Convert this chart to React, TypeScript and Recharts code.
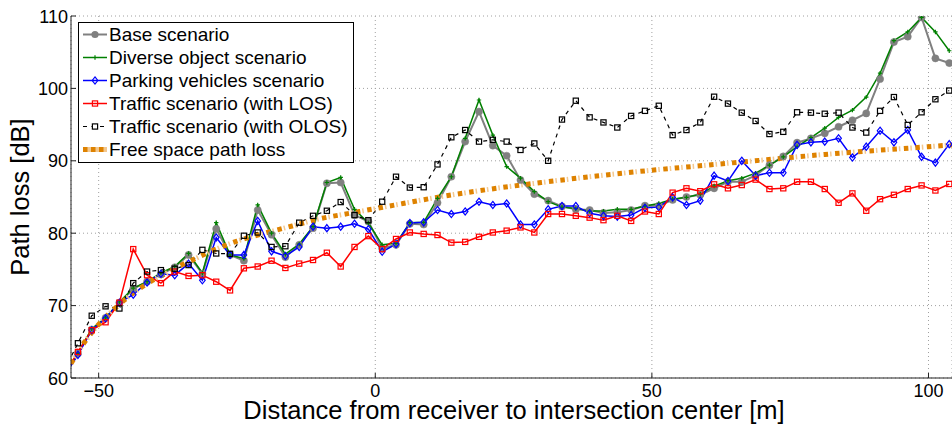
import React from 'react';
import { LineChart, Line, XAxis, YAxis, CartesianGrid, Legend } from 'recharts';

// Distance from receiver to intersection center [m]
const DISTANCE = [
  -56.25, -53.75, -51.25, -48.75, -46.25, -43.75, -41.25, -38.75, -36.25, -33.75,
  -31.25, -28.75, -26.25, -23.75, -21.25, -18.75, -16.25, -13.75, -11.25, -8.75,
  -6.25, -3.75, -1.25, 1.25, 3.75, 6.25, 8.75, 11.25, 13.75, 16.25,
  18.75, 21.25, 23.75, 26.25, 28.75, 31.25, 33.75, 36.25, 38.75, 41.25,
  43.75, 46.25, 48.75, 51.25, 53.75, 56.25, 58.75, 61.25, 63.75, 66.25,
  68.75, 71.25, 73.75, 76.25, 78.75, 81.25, 83.75, 86.25, 88.75, 91.25,
  93.75, 96.25, 98.75, 101.25, 103.75,
];

const BASE = [
  60.3, 63.4, 66.7, 68.3, 70.4, 72.3, 73.3, 74.3, 75.3, 77.0,
  74.4, 80.6, 77.0, 76.2, 83.2, 79.8, 76.7, 78.4, 80.7, 86.9,
  87.0, 82.5, 81.6, 77.9, 78.4, 81.3, 81.2, 84.2, 87.8, 92.65,
  96.8, 92.1, 90.7, 87.35, 85.4, 84.5, 83.7, 83.3, 83.2, 82.8,
  82.9, 83.2, 83.8, 83.8, 84.6, 85.0, 85.3, 86.2, 87.1, 87.1,
  88.0, 89.4, 90.6, 92.5, 93.1, 93.8, 94.7, 95.6, 96.55, 101.3,
  106.4, 107.15, 109.8, 104.15, 103.5,
];

const DIVERSE = [
  60.3, 63.4, 66.8, 68.3, 70.5, 72.4, 73.3, 74.5, 75.4, 77.2,
  74.5, 81.45, 77.0, 76.5, 83.9, 80.0, 77.1, 78.5, 80.9, 87.0,
  87.7, 83.3, 81.4, 78.4, 78.6, 81.45, 81.5, 84.8, 87.8, 93.1,
  98.4, 93.55, 89.2, 87.6, 85.75, 84.35, 83.6, 83.4, 83.05, 83.05,
  83.3, 83.3, 83.75, 84.1, 84.7, 84.95, 85.4, 86.5, 87.25, 87.6,
  88.3, 89.4, 90.55, 91.95, 93.2, 94.5, 96.0, 97.0, 98.8, 102.1,
  106.6, 107.8, 109.8, 107.8, 105.2,
];

const PARKING = [
  60.2, 63.2, 66.6, 68.25, 70.4, 71.5, 73.2, 74.4, 74.2, 75.8,
  73.5, 79.4, 77.0, 77.0, 81.7, 77.5, 76.85, 78.1, 80.9, 80.7,
  80.9, 81.3, 80.55, 77.45, 78.5, 81.4, 81.5, 83.2, 82.65, 83.0,
  84.35, 83.9, 84.1, 81.2, 81.2, 83.3, 83.75, 83.75, 82.75, 82.4,
  82.3, 82.5, 83.5, 83.6, 84.95, 83.9, 84.5, 87.95, 87.2, 90.0,
  87.95, 88.35, 88.35, 92.2, 92.55, 92.65, 93.1, 90.45, 91.95, 94.15,
  92.55, 94.25, 90.55, 89.75, 92.3,
];

const TRAFFIC_LOS = [
  60.4, 63.6, 66.6, 67.7, 70.4, 77.8, 74.2, 73.1, 74.7, 74.1,
  74.2, 73.3, 72.1, 75.15, 75.4, 76.2, 75.2, 75.8, 76.3, 77.3,
  75.4, 78.1, 79.6, 77.8, 79.2, 80.1, 79.9, 79.75, 78.7, 78.8,
  79.5, 80.1, 80.35, 80.8, 80.1, 82.65, 82.65, 82.4, 82.15, 81.8,
  82.4, 81.7, 83.0, 82.65, 85.6, 86.2, 85.8, 86.75, 86.2, 86.65,
  87.4, 86.1, 86.2, 87.1, 87.1, 86.1, 84.2, 85.5, 83.1, 84.7,
  85.3, 86.1, 86.6, 85.9, 86.8,
];

const TRAFFIC_OLOS = [
  61.0, 64.8, 68.6, 69.9, 69.6, 73.1, 74.7, 74.9, 75.1, 75.6,
  77.7, 77.2, 77.15, 79.65, 80.1, 78.1, 78.2, 81.45, 82.4, 83.1,
  84.3, 82.5, 81.8, 84.35, 87.8, 86.3, 86.35, 89.5, 93.25, 94.25,
  92.65, 92.9, 92.65, 91.5, 92.4, 90.0, 95.7, 98.3, 96.0, 95.3,
  94.6, 96.2, 96.9, 97.6, 93.55, 94.25, 95.3, 98.85, 97.9, 96.65,
  95.5, 93.7, 94.0, 96.7, 96.65, 96.5, 96.65, 94.6, 93.9, 96.9,
  98.8, 94.95, 96.7, 98.5, 99.7,
];

// Free space path loss curve
const FSPL_X = [
  -55, -52.5, -50, -47.5, -45, -42.5, -40, -37.5, -35, -32.5,
  -30, -25, -20, -15, -10, -5, 0, 5, 10, 20,
  30, 40, 50, 60, 70, 80, 90, 100, 104.25,
];
const FSPL = [
  62.0, 65.0, 67.4, 69.3, 71.0, 72.4, 73.6, 74.6, 75.6, 76.5,
  77.4, 78.9, 80.0, 81.0, 82.0, 82.7, 83.4, 84.1, 84.8, 86.0,
  87.0, 87.9, 88.7, 89.4, 90.1, 90.8, 91.4, 91.95, 92.2,
];

const X_TICKS = [-50, 0, 50, 100];
const Y_TICKS = [60, 70, 80, 90, 100, 110];

const SERIES_NAMES = [
  'Base scenario',
  'Diverse object scenario',
  'Parking vehicles scenario',
  'Traffic scenario (with LOS)',
  'Traffic scenario (with OLOS)',
  'Free space path loss',
];

const X_LABEL = 'Distance from receiver to intersection center [m]';
const Y_LABEL = 'Path loss [dB]';

const data = DISTANCE.map((x, i) => ({
  x,
  base: BASE[i],
  diverse: DIVERSE[i],
  parking: PARKING[i],
  los: TRAFFIC_LOS[i],
  olos: TRAFFIC_OLOS[i],
}));
const fsplData = FSPL_X.map((x, i) => ({ x, fspl: FSPL[i] }));

const FONT = '"Liberation Sans", Arial, Helvetica, sans-serif';
const GRAY = '#808080';
const GREEN = '#008000';
const BLUE = '#0000ff';
const RED = '#ff0000';
const BLACK = '#000000';
const ORANGE = '#de8200';
const ORANGE_LIGHT = '#f3c890';

const PLOT_LEFT = 71;
const PLOT_BOTTOM = 378;

const ok = (p: any) => p && p.cx != null && p.cy != null && isFinite(p.cx) && isFinite(p.cy);

const circleDot = (p: any) =>
  ok(p) ? (
    <circle key={`b${p.index}`} cx={p.cx} cy={p.cy} r={3.6} fill={GRAY} stroke={GRAY} strokeWidth={0.5} />
  ) : (
    <g key={`b${p.index}`} />
  );

const plusDot = (p: any) =>
  ok(p) ? (
    <path
      key={`d${p.index}`}
      d={`M${p.cx - 2.2},${p.cy}h4.4M${p.cx},${p.cy - 2.2}v4.4`}
      stroke={GREEN}
      strokeWidth={1.2}
      fill="none"
    />
  ) : (
    <g key={`d${p.index}`} />
  );

const diamondDot = (p: any) =>
  ok(p) ? (
    <path
      key={`p${p.index}`}
      d={`M${p.cx},${p.cy - 3.6}L${p.cx + 2.8},${p.cy}L${p.cx},${p.cy + 3.6}L${p.cx - 2.8},${p.cy}Z`}
      stroke={BLUE}
      strokeWidth={1.2}
      fill="none"
    />
  ) : (
    <g key={`p${p.index}`} />
  );

const squareDot = (color: string, prefix: string) => (p: any) =>
  ok(p) ? (
    <rect
      key={`${prefix}${p.index}`}
      x={p.cx - 2.6}
      y={p.cy - 2.6}
      width={5.2}
      height={5.2}
      stroke={color}
      strokeWidth={1.2}
      fill="none"
    />
  ) : (
    <g key={`${prefix}${p.index}`} />
  );

const XTick = (props: any) => {
  const { x, payload } = props;
  const v = payload.value as number;
  const label = v < 0 ? `\u2212${Math.abs(v)}` : `${v}`;
  return (
    <g>
      <line x1={x} x2={x} y1={PLOT_BOTTOM} y2={PLOT_BOTTOM - 5} stroke="#222" strokeWidth={1} />
      <text x={x} y={397} textAnchor="middle" fontFamily={FONT} fontSize={18} fill="#000">
        {label}
      </text>
    </g>
  );
};

const YTick = (props: any) => {
  const { y, payload } = props;
  return (
    <g>
      <line x1={PLOT_LEFT} x2={PLOT_LEFT + 5} y1={y} y2={y} stroke="#222" strokeWidth={1} />
      <text x={68} y={y + 6.5} textAnchor="end" fontFamily={FONT} fontSize={18} fill="#000">
        {payload.value}
      </text>
    </g>
  );
};

const LegendSymbol = ({ idx }: { idx: number }) => {
  const y = 11.5;
  const x1 = 4;
  const x2 = 28;
  const cx = 16;
  switch (idx) {
    case 0:
      return (
        <svg width={30} height={23}>
          <line x1={x1} x2={x2} y1={y} y2={y} stroke={GRAY} strokeWidth={2} />
          <circle cx={cx} cy={y} r={3.6} fill={GRAY} />
        </svg>
      );
    case 1:
      return (
        <svg width={30} height={23}>
          <line x1={x1} x2={x2} y1={y} y2={y} stroke={GREEN} strokeWidth={1.5} />
          <path d={`M${cx - 2.2},${y}h4.4M${cx},${y - 2.2}v4.4`} stroke={GREEN} strokeWidth={1.2} />
        </svg>
      );
    case 2:
      return (
        <svg width={30} height={23}>
          <line x1={x1} x2={x2} y1={y} y2={y} stroke={BLUE} strokeWidth={1.5} />
          <path
            d={`M${cx},${y - 3.6}L${cx + 2.8},${y}L${cx},${y + 3.6}L${cx - 2.8},${y}Z`}
            stroke={BLUE}
            strokeWidth={1.2}
            fill="none"
          />
        </svg>
      );
    case 3:
      return (
        <svg width={30} height={23}>
          <line x1={x1} x2={x2} y1={y} y2={y} stroke={RED} strokeWidth={1.5} />
          <rect x={cx - 2.6} y={y - 2.6} width={5.2} height={5.2} stroke={RED} strokeWidth={1.2} fill="none" />
        </svg>
      );
    case 4:
      return (
        <svg width={30} height={23}>
          <line x1={x1} x2={x2} y1={y} y2={y} stroke={BLACK} strokeWidth={1.2} strokeDasharray="4 4.5" />
          <rect x={cx - 2.6} y={y - 2.6} width={5.2} height={5.2} stroke={BLACK} strokeWidth={1.2} fill="#fff" />
        </svg>
      );
    default:
      return (
        <svg width={30} height={23}>
          <line x1={x1} x2={x2} y1={y} y2={y} stroke={ORANGE_LIGHT} strokeWidth={5} />
          <line x1={x1} x2={x2} y1={y} y2={y} stroke={ORANGE} strokeWidth={5} strokeDasharray="4.5 3.5" />
        </svg>
      );
  }
};

const LegendBox = () => (
  <div
    style={{
      border: '1px solid #000',
      background: '#fff',
      width: 276,
      height: 141,
      boxSizing: 'border-box',
      fontFamily: FONT,
      fontSize: 19,
      color: '#000',
      textAlign: 'left',
    }}
  >
    {SERIES_NAMES.map((name, i) => (
      <div key={name} style={{ display: 'flex', alignItems: 'center', height: 23, lineHeight: '23px', whiteSpace: 'nowrap' }}>
        <LegendSymbol idx={i} />
        <span style={{ marginLeft: 0 }}>{name}</span>
      </div>
    ))}
  </div>
);

const XLabel = () => (
  <text x={514} y={419} textAnchor="middle" fontFamily={FONT} fontSize={25.5} fill="#000">
    {X_LABEL}
  </text>
);

const YLabel = () => (
  <text
    x={29}
    y={197}
    textAnchor="middle"
    fontFamily={FONT}
    fontSize={25.5}
    fill="#000"
    transform="rotate(-90 29 197)"
  >
    {Y_LABEL}
  </text>
);

export default function App() {
  return (
    <div style={{ position: 'absolute', left: 0, top: 0, width: 952, height: 425, background: '#fff' }}>
      <LineChart width={952} height={425} data={data} margin={{ top: 16, right: 0, bottom: 0, left: 0 }}>
        <CartesianGrid stroke="#a0a0a0" strokeDasharray="1 3" strokeWidth={1} />
        <XAxis
          type="number"
          dataKey="x"
          domain={[-55, 104.25]}
          allowDataOverflow
          ticks={X_TICKS}
          interval={0}
          height={47}
          tickLine={false}
          tick={<XTick />}
          axisLine={{ stroke: '#222', strokeWidth: 1 }}
          label={<XLabel />}
        />
        <YAxis
          type="number"
          domain={[60, 110]}
          allowDataOverflow
          ticks={Y_TICKS}
          interval={0}
          width={71}
          tickLine={false}
          tick={<YTick />}
          axisLine={{ stroke: '#222', strokeWidth: 1 }}
          label={<YLabel />}
        />
        <Legend
          layout="vertical"
          align="center"
          verticalAlign="middle"
          content={<LegendBox />}
          wrapperStyle={{ left: 78, top: 22, width: 276, height: 141, margin: 0 }}
        />
        <Line
          type="linear"
          dataKey="base"
          name={SERIES_NAMES[0]}
          stroke={GRAY}
          strokeWidth={2}
          dot={circleDot}
          activeDot={false}
          isAnimationActive={false}
        />
        <Line
          type="linear"
          dataKey="diverse"
          name={SERIES_NAMES[1]}
          stroke={GREEN}
          strokeWidth={1.5}
          dot={plusDot}
          activeDot={false}
          isAnimationActive={false}
        />
        <Line
          type="linear"
          dataKey="parking"
          name={SERIES_NAMES[2]}
          stroke={BLUE}
          strokeWidth={1.5}
          dot={diamondDot}
          activeDot={false}
          isAnimationActive={false}
        />
        <Line
          type="linear"
          dataKey="los"
          name={SERIES_NAMES[3]}
          stroke={RED}
          strokeWidth={1.5}
          dot={squareDot(RED, 'r')}
          activeDot={false}
          isAnimationActive={false}
        />
        <Line
          type="linear"
          dataKey="olos"
          name={SERIES_NAMES[4]}
          stroke={BLACK}
          strokeWidth={1.2}
          strokeDasharray="4 4.5"
          dot={squareDot(BLACK, 'k')}
          activeDot={false}
          isAnimationActive={false}
        />
        <Line
          type="monotone"
          data={fsplData}
          dataKey="fspl"
          name="fspl-light"
          legendType="none"
          stroke={ORANGE_LIGHT}
          strokeWidth={5}
          strokeDasharray="0 6.5 1.5 3.5"
          dot={false}
          activeDot={false}
          isAnimationActive={false}
        />
        <Line
          type="monotone"
          data={fsplData}
          dataKey="fspl"
          name={SERIES_NAMES[5]}
          stroke={ORANGE}
          strokeWidth={5}
          strokeDasharray="4.5 7"
          dot={false}
          activeDot={false}
          isAnimationActive={false}
        />
      </LineChart>
    </div>
  );
}
